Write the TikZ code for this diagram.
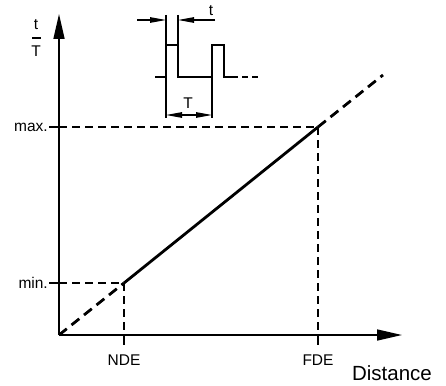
\documentclass[tikz,border=0pt]{standalone}
\usepackage{fontspec}
\setmainfont{Liberation Sans}
\usetikzlibrary{arrows.meta}
\begin{document}
\begin{tikzpicture}[x=1pt,y=-1pt,
  axis/.style={line width=1.6pt,-{Triangle[length=25pt,width=11pt]}},
  guide/.style={line width=1.3pt,dash pattern=on 8pt off 5pt},
  solidthin/.style={line width=1.3pt},
  curve/.style={line width=2.8pt},
  curvedash/.style={line width=2.8pt,dash pattern=on 10pt off 6pt},
  pulse/.style={line width=2.6pt},
  dim/.style={line width=1.1pt},
  dimarrow/.style={line width=1.1pt,-{Triangle[length=16pt,width=5.5pt]}},
  lbl/.style={font=\fontsize{15.5}{15.5}\selectfont,inner sep=0pt}]
\useasboundingbox (0,0) rectangle (446,385);
% key points
\coordinate (O) at (59,335);
\coordinate (ytip) at (59,14);
\coordinate (xtip) at (402,335);
\coordinate (pmin) at (124,283);
\coordinate (pmax) at (318,127);
\coordinate (pend) at (383,75);
\coordinate (ymin) at (59,283);
\coordinate (ymax) at (59,127);
\coordinate (xnde) at (124,335);
\coordinate (xfde) at (318,335);
\coordinate (tmin) at (49,283);
\coordinate (tmax) at (49,127);
\coordinate (bnde) at (124,345);
\coordinate (bfde) at (318,345);
% axes
\draw[axis] (O) -- (ytip);
\draw[axis] (O) -- (xtip);
% guides
\draw[solidthin] (tmin) -- (ymin);
\draw[solidthin] (tmax) -- (ymax);
\draw[guide] (ymin) -- (pmin);
\draw[guide] (ymax) -- (pmax);
\draw[guide] (pmin) -- (xnde);
\draw[guide] (pmax) -- (xfde);
\draw[solidthin] (xnde) -- (bnde);
\draw[solidthin] (xfde) -- (bfde);
% characteristic
\draw[curvedash] (O) -- (pmin);
\draw[curve] (pmin) -- (pmax);
\draw[curvedash] (pmax) -- (pend);
% labels
\node[lbl,anchor=east] (lmin) at (48,283) {min.};
\node[lbl,anchor=east] (lmax) at (48,127) {max.};
\node[lbl] (lnde) at (124,360) {NDE};
\node[lbl] (lfde) at (318,360) {FDE};
\node[inner sep=0pt,font=\fontsize{20.5}{20.5}\selectfont] (ldist) at (392,373) {Distance};
\node[lbl] (lt) at (36,25) {t};
\node[lbl] (lT) at (36,51) {T};
\draw[line width=1.3pt] (32,38) -- (41,38);
% pulse train points
\coordinate (p0) at (155,77);
\coordinate (p1) at (166,77);
\coordinate (p2) at (166,45);
\coordinate (p3) at (178,45);
\coordinate (p4) at (178,77);
\coordinate (p5) at (212,77);
\coordinate (p6) at (212,45);
\coordinate (p7) at (224,45);
\coordinate (p8) at (224,77);
\coordinate (p9) at (232,77);
\coordinate (p10) at (258,77);
% dimension t
\coordinate (e1t) at (166,15);
\coordinate (e2t) at (178,15);
\coordinate (d1a) at (137,20);
\coordinate (d1b) at (166,20);
\coordinate (d2a) at (215,20);
\coordinate (d2b) at (178,20);
\draw[dim] (e1t) -- (p2);
\draw[dim] (e2t) -- (p3);
\draw[dimarrow] (d1a) -- (d1b);
\draw[dimarrow] (d2a) -- (d2b);
\node[lbl] (ltt) at (211,11) {t};
% dimension T
\coordinate (e1T) at (166,118);
\coordinate (e2T) at (212,118);
\coordinate (mT) at (189,115);
\coordinate (aT) at (166,115);
\coordinate (bT) at (212,115);
\draw[dim] (p1) -- (e1T);
\draw[dim] (p5) -- (e2T);
\draw[dimarrow] (mT) -- (aT);
\draw[dimarrow] (mT) -- (bT);
\node[lbl] (lTT) at (188,103) {T};
% pulse train
\draw[pulse] (p0) -- (p1) -- (p2) -- (p3) -- (p4) -- (p5) -- (p6) -- (p7) -- (p8) -- (p9);
\draw[pulse,dash pattern=on 6pt off 4pt] (p9) -- (p10);
\end{tikzpicture}
\end{document}
